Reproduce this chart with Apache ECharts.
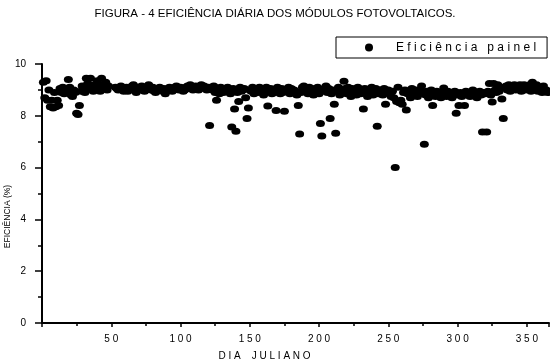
<!DOCTYPE html>
<html>
<head>
<meta charset="utf-8">
<script src="https://cdn.jsdelivr.net/npm/echarts@6/dist/echarts.min.js"></script>
<style>
  html, body { margin: 0; padding: 0; background: #fff; }
  #chart { width: 550px; height: 360px; }
</style>
</head>
<body>
<div id="chart"></div>
<script>
// eficiência diária (%), um valor por dia juliano a partir do dia 1 (null = sem medida)
const efficiency = [
  9.3, 8.7, 9.35, 8.6, 9.0, 8.35, 8.6, 8.3, 8.9, 8.35,
  8.6, 8.4, 9.05, 8.9, 9.1, 8.85, 9.0, 8.95, 9.4, 9.1,
  8.8, 8.75, 9.0, 8.9, 8.1, 8.05, 8.4, 8.95, 9.15, 9.0,
  8.9, 9.45, 9.25, 9.05, 9.45, 9.1, 8.95, 9.2, 9.0, 9.35,
  9.1, 8.95, 9.45, 9.2, 9.05, 9.3, 9.0, 9.15, null, null,
  null, null, 9.1, 9.05, 9.0, 9.1, 9.15, 9.0, 8.95, 9.05,
  9.1, 8.95, 9.0, 9.05, 9.15, 9.2, 9.0, 8.9, 9.05, 9.1,
  9.0, 9.15, 9.05, 8.95, 9.0, 9.1, 9.2, 9.05, 9.0, 9.1,
  8.95, 8.9, 9.0, 9.05, 9.1, 9.0, 8.95, 9.05, 8.85, 8.95,
  9.0, 9.1, 9.05, 8.95, 9.0, 9.1, 9.15, 9.05, 9.0, 9.1,
  9.05, 8.95, 9.0, 9.1, 9.15, 9.05, 9.2, 9.1, 9.0, 9.05,
  9.15, 9.1, 9.0, 9.05, 9.2, 9.1, 9.15, 9.05, 9.0, 9.1,
  7.63, 9.1, 9.0, 9.15, 8.9, 8.6, 9.05, 8.85, 9.1, 9.0,
  8.9, 9.05, 8.95, 9.1, 9.0, 8.85, 7.57, 9.05, 8.26, 7.4,
  8.9, 8.55, 9.1, 8.95, 9.0, 9.05, 8.7, 7.9, 8.3, 9.0,
  8.95, 9.1, 8.85, 9.05, 9.0, 8.9, 9.1, 8.95, 9.05, 8.8,
  9.0, 9.1, 8.38, 8.95, 9.05, 8.85, 9.0, 8.9, 8.2, 9.1,
  8.95, 8.85, 9.05, 8.9, 8.18, 9.0, 8.95, 9.1, 8.85, 9.05,
  8.9, 9.0, 8.95, 8.8, 8.4, 7.3, 8.9, 9.1, 9.15, 8.95,
  9.05, 8.85, 9.1, 8.95, 9.0, 8.8, 9.05, 8.9, 9.1, 8.85,
  7.7, 7.22, 9.0, 8.95, 9.15, 8.9, 9.05, 7.9, 8.85, 9.0,
  8.45, 7.33, 8.95, 9.1, 8.8, 9.0, 8.9, 9.33, 9.05, 8.85,
  9.1, 8.95, 8.75, 9.05, 8.9, 9.0, 8.8, 9.1, 8.95, 8.85,
  9.0, 8.26, 9.05, 8.9, 8.75, 9.0, 8.95, 9.1, 8.8, 8.9,
  9.05, 7.6, 8.85, 9.0, 8.95, 8.8, 9.05, 8.45, 8.9, 9.0,
  8.85, 8.75, 8.95, 8.7, 6.0, 8.55, 9.1, 8.5, 8.6, 8.45,
  8.9, 9.0, 8.22, 8.85, 8.95, 8.7, 9.05, 8.8, 8.9, 9.0,
  8.75, 8.85, 9.0, 9.15, 8.9, 6.9, 8.8, 8.95, 8.7, 8.85,
  9.0, 8.4, 8.9, 8.75, 8.95, 8.8, 8.9, 8.7, 8.85, 9.07,
  8.9, 8.75, 8.95, 8.8, 8.9, 8.7, 8.85, 8.95, 8.1, 8.8,
  8.4, 8.9, 8.75, 8.85, 8.4, 8.95, 8.8, 8.9, 8.75, 8.85,
  9.0, 8.8, 8.9, 8.7, 8.85, 8.95, 8.8, 7.37, 8.9, 8.85,
  7.37, 8.95, 9.25, 8.8, 8.53, 9.25, 9.0, 8.9, 9.2, 8.95,
  9.05, 8.65, 7.9, 9.1, 9.15, 9.0, 9.2, 8.95, 9.1, 9.05,
  9.2, 9.0, 9.15, 9.05, 9.2, 8.95, 9.1, 9.2, 9.0, 9.15,
  9.05, 9.2, 8.95, 9.3, 9.1, 9.0, 9.2, 8.95, 9.1, 9.05,
  8.9, 9.15, 8.95, 9.0, 8.9
];
const xTickLabels = [50, 100, 150, 200, 250, 300, 350];
const yTickLabels = [0, 2, 4, 6, 8, 10];

const font = 'Liberation Sans, Arial, sans-serif';
// separa os caracteres como no original
const spaced = s => s.split('').join(' ');

const points = efficiency
  .map((v, i) => [i + 1, v])
  .filter(p => p[1] !== null);

const chart = echarts.init(document.getElementById('chart'));
chart.setOption({
  backgroundColor: '#fff',
  animation: false,
  title: {
    text: 'FIGURA - 4 EFICIÊNCIA DIÁRIA DOS MÓDULOS FOTOVOLTAICOS.',
    left: 'center',
    top: 3,
    textStyle: { fontFamily: font, fontSize: 11.5, fontWeight: 'normal', color: '#000' }
  },
  legend: {
    left: 336,
    top: 37,
    orient: 'horizontal',
    borderColor: '#000',
    borderWidth: 1,
    borderRadius: 0,
    padding: [4, 11, 4, 29],
    itemWidth: 10,
    itemHeight: 8,
    textStyle: {
      fontFamily: font, fontSize: 12, color: '#000',
      padding: [0, 0, 0, 17], lineHeight: 13
    },
    formatter: name => spaced(name),
    data: ['Eficiência painel']
  },
  grid: { left: 42, right: 1, top: 64, bottom: 37, outerBoundsMode: 'none' },
  xAxis: {
    type: 'value',
    min: 0,
    max: 366,
    interval: 50,
    name: spaced('DIA JULIANO').replace('A   J', 'A    J'),
    nameLocation: 'middle',
    nameGap: 28,
    nameMoveOverlap: false,
    nameTextStyle: { fontFamily: font, fontSize: 10, color: '#000', padding: [0, 62, 0, 0] },
    axisLine: { lineStyle: { color: '#000', width: 2 } },
    axisTick: { length: 4, lineStyle: { color: '#000', width: 1.5 } },
    minorTick: { show: true, splitNumber: 2, length: 3, lineStyle: { color: '#000', width: 1.5 } },
    splitLine: { show: false },
    axisLabel: {
      margin: 11,
      fontFamily: font, fontSize: 10, color: '#000',
      formatter: v => xTickLabels.includes(v) ? spaced(String(v)) : ''
    }
  },
  yAxis: {
    type: 'value',
    min: 0,
    max: 10,
    interval: 2,
    name: 'EFICIÊNCIA (%)',
    nameLocation: 'middle',
    nameGap: 30,
    nameMoveOverlap: false,
    nameTextStyle: { fontFamily: font, fontSize: 8.5, color: '#000', padding: [0, 46, 0, 0] },
    axisLine: { show: true, lineStyle: { color: '#000', width: 2 } },
    axisTick: { show: true, length: 7, lineStyle: { color: '#000', width: 1.5 } },
    minorTick: { show: true, splitNumber: 2, length: 4, lineStyle: { color: '#000', width: 1.5 } },
    splitLine: { show: false },
    axisLabel: {
      margin: 16,
      fontFamily: font, fontSize: 10, color: '#000',
      formatter: v => yTickLabels.includes(v) ? String(v) : ''
    }
  },
  series: [{
    name: 'Eficiência painel',
    type: 'scatter',
    clip: false,
    symbol: 'path://M-1,0a1,1 0 1,0 2,0a1,1 0 1,0 -2,0',
    symbolSize: [9, 7],
    itemStyle: { color: '#000', opacity: 1 },
    data: points
  }]
});
</script>
</body>
</html>
